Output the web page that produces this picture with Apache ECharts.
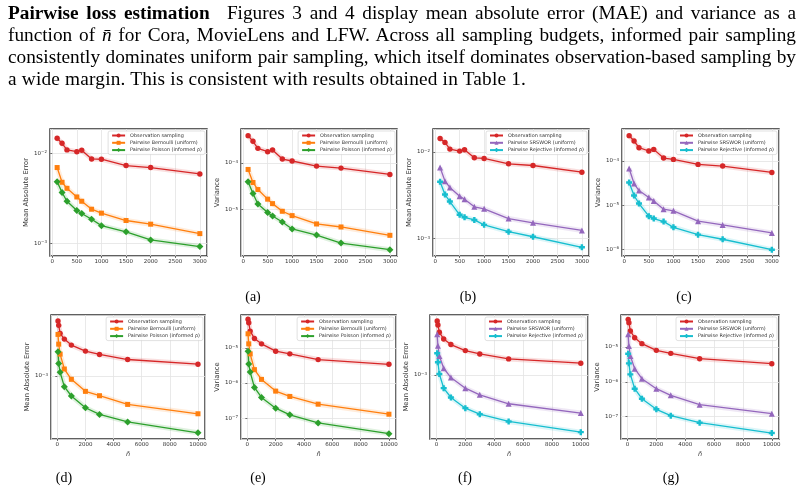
<!DOCTYPE html>
<html><head><meta charset="utf-8">
<script src="https://cdn.jsdelivr.net/npm/echarts@6/dist/echarts.min.js"></script>
<style>
html,body{margin:0;padding:0;background:#fff;}
#chart{position:absolute;left:0;top:0;width:804px;height:497px;}
#para{position:absolute;left:8px;top:2px;width:788px;font-family:'Liberation Serif','Times New Roman',serif;font-size:19.3px;line-height:22px;color:#000;z-index:2;}
#para .j{text-align:justify;text-align-last:justify;word-spacing:-1.5px;}
#para .l{text-align:left;letter-spacing:0.2px;}
</style></head>
<body>
<div id="chart"></div>
<div id="para">
<div class="j"><b>Pairwise loss estimation</b>&ensp; Figures 3 and 4 display mean absolute error (MAE) and variance as a</div>
<div class="j">function of <i>n&#772;</i> for Cora, MovieLens and LFW. Across all sampling budgets, informed pair sampling</div>
<div class="j">consistently dominates uniform pair sampling, which itself dominates observation-based sampling by</div>
<div class="l">a wide margin. This is consistent with results obtained in Table 1.</div>
</div>
<script>
// ---- data ----
const topX = [100, 200, 300, 500, 600, 800, 1000, 1500, 2000, 3000];
const botX = [50, 100, 200, 500, 1000, 2000, 3000, 5000, 10000];
const seriesNames = ['Observation sampling', 'Pairwise Bernoulli (uniform)', 'Pairwise Poisson (informed ρ)', 'Pairwise SRSWOR (uniform)', 'Pairwise Rejective (informed ρ)'];
const captions = ['(a)', '(b)', '(c)', '(d)', '(e)', '(f)', '(g)'];

const p1_obs = [0.0147, 0.0129, 0.0109, 0.0104, 0.0108, 0.00865, 0.00858, 0.0073, 0.00694, 0.00589];
const p1_bern = [0.00694, 0.00476, 0.00408, 0.00327, 0.00293, 0.00239, 0.00216, 0.00179, 0.00163, 0.00128];
const p1_pois = [0.00484, 0.00366, 0.00293, 0.00231, 0.00214, 0.00185, 0.00157, 0.00134, 0.00109, 0.00092];

const p2_obs = [3.79e-4, 2.87e-4, 2.03e-4, 1.72e-4, 1.87e-4, 1.20e-4, 1.09e-4, 8.49e-5, 7.69e-5, 5.62e-5];
const p2_bern = [7.20e-5, 3.79e-5, 2.68e-5, 1.67e-5, 1.34e-5, 9.2e-6, 7.43e-6, 4.93e-6, 4.25e-6, 2.82e-6];
const p2_pois = [3.92e-5, 2.20e-5, 1.32e-5, 8.62e-6, 7.31e-6, 5.44e-6, 3.85e-6, 2.86e-6, 1.93e-6, 1.39e-6];

const p3_obs = [0.01425, 0.01282, 0.01074, 0.01018, 0.01054, 0.00853, 0.00838, 0.00727, 0.00695, 0.00582];
const p3_srs = [0.00659, 0.00459, 0.00388, 0.00308, 0.00284, 0.00232, 0.0022, 0.0017, 0.00152, 0.00124];
const p3_rej = [0.00451, 0.00322, 0.00267, 0.00188, 0.00176, 0.00164, 0.00144, 0.0012, 0.00105, 0.000794];

const p4_obs = [3.77e-4, 2.85e-4, 2.01e-4, 1.69e-4, 1.84e-4, 1.17e-4, 1.09e-4, 8.4e-5, 7.7e-5, 5.52e-5];
const p4_srs = [6.81e-5, 3.1e-5, 2.15e-5, 1.49e-5, 1.25e-5, 8.11e-6, 7.43e-6, 4.33e-6, 3.57e-6, 2.35e-6];
const p4_rej = [3.27e-5, 1.66e-5, 1.09e-5, 5.62e-6, 4.98e-6, 4.25e-6, 3.16e-6, 2.15e-6, 1.69e-6, 9.8e-7];

const p5_obs = [6.25e-3, 5.41e-3, 4.14e-3, 3.42e-3, 2.80e-3, 2.29e-3, 2.05e-3, 1.73e-3, 1.48e-3];
const p5_bern = [4.0e-3, 2.89e-3, 2.07e-3, 1.26e-3, 8.94e-4, 5.98e-4, 5.17e-4, 3.87e-4, 2.83e-4];
const p5_pois = [2.24e-3, 1.51e-3, 1.13e-3, 7.0e-4, 5.12e-4, 3.46e-4, 2.77e-4, 2.16e-4, 1.50e-4];

const p6_obs = [6.46e-5, 5.18e-5, 2.99e-5, 1.85e-5, 1.30e-5, 8.03e-6, 6.74e-6, 4.64e-6, 3.41e-6];
const p6_bern = [2.51e-5, 1.30e-5, 6.74e-6, 2.40e-6, 1.27e-6, 5.9e-7, 4.16e-7, 2.51e-7, 1.30e-7];
const p6_pois = [8.03e-6, 3.49e-6, 2.06e-6, 7.52e-7, 3.89e-7, 1.93e-7, 1.25e-7, 7.36e-8, 3.65e-8];

const p7_obs = [6.11e-3, 5.35e-3, 4.18e-3, 3.34e-3, 2.77e-3, 2.26e-3, 2.02e-3, 1.71e-3, 1.48e-3];
const p7_srs = [3.91e-3, 2.67e-3, 1.89e-3, 1.25e-3, 9.14e-4, 6.4e-4, 5.12e-4, 3.79e-4, 2.77e-4];
const p7_rej = [2.07e-3, 1.53e-3, 1.03e-3, 6.4e-4, 4.68e-4, 3.27e-4, 2.67e-4, 2.09e-4, 1.46e-4];

const p8_obs = [6.22e-5, 5.0e-5, 2.88e-5, 1.85e-5, 1.25e-5, 8.02e-6, 6.58e-6, 4.62e-6, 3.32e-6];
const p8_srs = [2.31e-5, 1.07e-5, 5.52e-6, 2.39e-6, 1.23e-6, 6.37e-7, 4.1e-7, 2.21e-7, 1.22e-7];
const p8_rej = [6.44e-6, 3.40e-6, 1.64e-6, 6.37e-7, 3.29e-7, 1.63e-7, 1.07e-7, 6.73e-8, 3.4e-8];

// ---- layout / styles ----
const styles = {
  'Observation sampling': {color: '#d62728', symbol: 'circle', size: 5.4},
  'Pairwise Bernoulli (uniform)': {color: '#ff7f0e', symbol: 'rect', size: 5},
  'Pairwise Poisson (informed ρ)': {color: '#2ca02c', symbol: 'diamond', size: 7},
  'Pairwise SRSWOR (uniform)': {color: '#9467bd', symbol: 'triangle', size: 6},
  'Pairwise Rejective (informed ρ)': {color: '#17becf', symbol: 'path://M3,0H7V3H10V7H7V10H3V7H0V3H3Z', size: 6}
};
const MAE = 'Mean Absolute Error', VAR = 'Variance';
const panels = [
  {box: [50, 129, 157, 127], row: 0, yName: MAE, yMin: 7.22e-4, yMax: 0.0186, names: [0, 1, 2], data: [p1_obs, p1_bern, p1_pois]},
  {box: [241, 129, 156, 127], row: 0, yName: VAR, yMin: 1.02e-6, yMax: 5.26e-4, names: [0, 1, 2], data: [p2_obs, p2_bern, p2_pois]},
  {box: [433, 129, 156, 127], row: 0, yName: MAE, yMin: 6.3e-4, yMax: 0.0183, names: [0, 3, 4], data: [p3_obs, p3_srs, p3_rej]},
  {box: [622, 129, 157, 127], row: 0, yName: VAR, yMin: 7.05e-7, yMax: 5.33e-4, names: [0, 3, 4], data: [p4_obs, p4_srs, p4_rej]},
  {box: [51, 315, 154, 124], row: 1, yName: MAE, yMin: 1.22e-4, yMax: 7.64e-3, names: [0, 1, 2], data: [p5_obs, p5_bern, p5_pois]},
  {box: [241, 315, 155, 124], row: 1, yName: VAR, yMin: 2.57e-8, yMax: 8.57e-5, names: [0, 1, 2], data: [p6_obs, p6_bern, p6_pois]},
  {box: [430, 315, 158, 124], row: 1, yName: MAE, yMin: 1.16e-4, yMax: 7.48e-3, names: [0, 3, 4], data: [p7_obs, p7_srs, p7_rej]},
  {box: [621, 315, 158, 124], row: 1, yName: VAR, yMin: 2.29e-8, yMax: 8.3e-5, names: [0, 3, 4], data: [p8_obs, p8_srs, p8_rej]}
];
const captionPos = [[253, 297], [468, 297], [684, 297], [64, 478], [258, 478], [465, 478], [671, 478]];

const FONT = 'DejaVu Sans';
function logLabel(v) {
  const e = Math.round(Math.log10(v));
  return '10{s|' + String(e).replace('-', '−') + '}';
}

const grid = [], xAxis = [], yAxis = [], series = [], legend = [];
panels.forEach((p, i) => {
  const [l, t, w, h] = p.box;
  grid.push({left: l, top: t, width: w, height: h, show: true, borderColor: '#2b2b2b', borderWidth: 1.4, backgroundColor: 'transparent'});
  const xs = p.row === 0 ? topX : botX;
  xAxis.push({
    type: 'value', gridIndex: i,
    min: p.row === 0 ? -45 : -448, max: p.row === 0 ? 3145 : 10498,
    splitNumber: p.row === 0 ? 6 : 5,
    name: p.row === 1 ? 'n\u0304' : '', nameLocation: 'middle', nameGap: 12,
    nameTextStyle: {fontSize: 6.5, color: '#333', fontFamily: FONT, fontStyle: 'italic'},
    axisLine: {show: false},
    axisTick: {show: true, length: 2, lineStyle: {color: '#333', width: 0.7}},
    axisLabel: {fontSize: 5.5, color: '#333', fontFamily: FONT, margin: 3, showMinLabel: false, showMaxLabel: false,
      formatter: v => String(v)},
    splitLine: {show: true, lineStyle: {color: '#e3e3e3', width: 0.8}}
  });
  yAxis.push({
    type: 'log', logBase: 10, gridIndex: i, min: p.yMin, max: p.yMax,
    name: p.yName, nameLocation: 'middle', nameGap: p.yName === MAE ? 17 : 19,
    nameTextStyle: {fontSize: 6.8, color: '#333', fontFamily: FONT},
    axisLine: {show: false},
    axisTick: {show: true, length: 2, lineStyle: {color: '#333', width: 0.7}},
    axisLabel: {
      fontSize: 5.5, color: '#333', fontFamily: FONT, margin: 3, showMinLabel: false, showMaxLabel: false,
      formatter: logLabel,
      rich: {s: {fontSize: 4, color: '#333', fontFamily: FONT, verticalAlign: 'top', padding: [0, 0, 2, 0]}}
    },
    splitLine: {show: true, lineStyle: {color: '#e3e3e3', width: 0.8}}
  });
  const names = p.names.map(k => seriesNames[k]);
  names.forEach((nm, k) => {
    const st = styles[nm];
    const pts = xs.map((x, j) => [x, p.data[k][j]]);
    series.push({
      type: 'line', xAxisIndex: i, yAxisIndex: i, data: pts, silent: true,
      symbol: 'none', z: 1,
      lineStyle: {color: st.color, width: 5, opacity: 0.15}
    });
    series.push({
      name: nm, type: 'line', xAxisIndex: i, yAxisIndex: i, data: pts, z: 3,
      symbol: st.symbol, symbolSize: st.size,
      itemStyle: {color: st.color},
      lineStyle: {color: st.color, width: 1.3}
    });
  });
  legend.push({
    orient: 'vertical', right: 804 - (l + w) + 2, top: t + 2,
    data: names, selectedMode: false,
    itemWidth: 13, itemHeight: 5, itemGap: 2.3,
    textStyle: {fontSize: 4.9, color: '#333', fontFamily: FONT},
    backgroundColor: 'rgba(255,255,255,0.85)', borderColor: '#cccccc', borderWidth: 0.6, borderRadius: 2,
    padding: [2, 3, 2, 3]
  });
});

const graphic = captions.map((c, i) => ({
  type: 'text', x: captionPos[i][0], y: captionPos[i][1],
  style: {text: c, fill: '#000', font: '14px "Liberation Serif"', textAlign: 'center', textVerticalAlign: 'middle'}
}));

const chart = echarts.init(document.getElementById('chart'), null, {renderer: 'canvas'});
chart.setOption({
  animation: false,
  backgroundColor: '#fff',
  grid, xAxis, yAxis, series, legend, graphic
});
</script>
</body></html>
